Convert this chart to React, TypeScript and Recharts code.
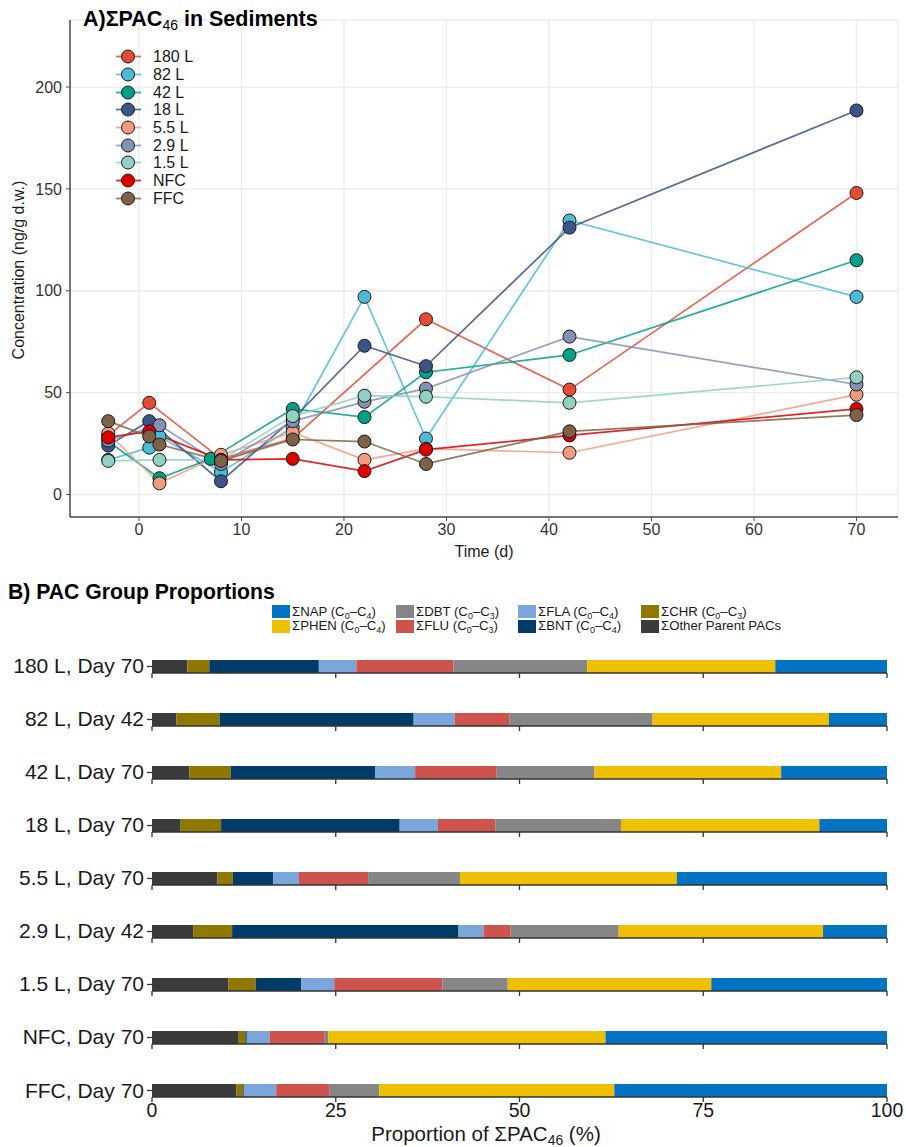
import { LineChart, Line, XAxis, YAxis, CartesianGrid, BarChart, Bar } from "recharts";

const FONT = "'Liberation Sans', Arial, sans-serif";

// --- A) concentration time series ---
const sampleDays = [-3, 1, 2, 7, 8, 15, 22, 28, 42, 70];
const seriesNames = ["180 L", "82 L", "42 L", "18 L", "5.5 L", "2.9 L", "1.5 L", "NFC", "FFC"];
const seriesColors = ["#E64B35", "#4DBBD5", "#00A087", "#3C5488", "#F39B7F", "#8491B4", "#91D1C2", "#DC0000", "#7E6148"];

const conc180L = [29, 45, null, null, 17.5, 27.5, null, 86, 51.5, 148];
const conc82L = [17, 23, 28.5, null, 11, 33, 97, 27.5, 134.5, 97];
const conc42L = [26, null, 8, 17.5, null, 42, 38, 60, 68.5, 115];
const conc18L = [24, 36, null, null, 6.5, 37, 73, 63, 131, 188.5];
const conc5_5L = [30, null, 5.5, null, 19.5, 30.5, 17, 22.5, 20.5, 49];
const conc2_9L = [26.5, null, 34, null, 15, 36, 45.5, 52, 77.5, 54];
const conc1_5L = [16.5, null, 17, null, 17, 38.5, 48.5, 48, 45, 57.5];
const concNFC = [28, 31, null, null, 17, 17.5, 11.5, 22, 29, 42];
const concFFC = [36, 28.5, 24.5, null, 16.5, 27, 26, 15, 31, 39];

const concentrations = [conc180L, conc82L, conc42L, conc18L, conc5_5L, conc2_9L, conc1_5L, concNFC, concFFC];
const timeTicks = [0, 10, 20, 30, 40, 50, 60, 70];
const concTicks = [0, 50, 100, 150, 200];

// --- B) group proportions (%) per sample, bottom row last ---
const sampleLabels = [
  "180 L, Day 70", "82 L, Day 42", "42 L, Day 70", "18 L, Day 70", "5.5 L, Day 70",
  "2.9 L, Day 42", "1.5 L, Day 70", "NFC, Day 70", "FFC, Day 70",
];
const otherPct = [4.8, 3.3, 5.1, 3.9, 8.9, 5.6, 10.4, 11.8, 11.5];
const chrPct = [3.0, 5.9, 5.6, 5.5, 2.1, 5.3, 3.7, 0.9, 0.9];
const bntPct = [14.9, 26.4, 19.7, 24.3, 5.5, 30.8, 6.2, 0.2, 0.1];
const flaPct = [5.1, 5.6, 5.4, 5.2, 3.5, 3.4, 4.5, 3.1, 4.4];
const fluPct = [13.2, 7.4, 11.1, 7.8, 9.4, 3.7, 14.7, 7.5, 7.2];
const dbtPct = [18.2, 19.5, 13.3, 17.1, 12.5, 14.7, 8.9, 0.5, 6.8];
const phenPct = [25.6, 24.0, 25.4, 27.0, 29.5, 27.8, 27.7, 37.7, 32.0];
const napPct = [15.2, 7.9, 14.4, 9.2, 28.6, 8.7, 23.9, 38.3, 37.1];
const pctTicks = [0, 25, 50, 75, 100];

// stacking order left -> right
const groups = [
  { key: "other", name: "Other Parent PACs", values: otherPct, color: "#3B3B3B" },
  { key: "chr", name: "CHR", values: chrPct, color: "#8F7700" },
  { key: "bnt", name: "BNT", values: bntPct, color: "#003C67" },
  { key: "fla", name: "FLA", values: flaPct, color: "#7AA6DC" },
  { key: "flu", name: "FLU", values: fluPct, color: "#CD534C" },
  { key: "dbt", name: "DBT", values: dbtPct, color: "#868686" },
  { key: "phen", name: "PHEN", values: phenPct, color: "#EFC000" },
  { key: "nap", name: "NAP", values: napPct, color: "#0073C2" },
];

// legend cells, filled column-wise like ggplot
const legendCells = [
  { key: "nap", hi: "4", col: 0, row: 0 },
  { key: "phen", hi: "4", col: 0, row: 1 },
  { key: "dbt", hi: "3", col: 1, row: 0 },
  { key: "flu", hi: "3", col: 1, row: 1 },
  { key: "fla", hi: "4", col: 2, row: 0 },
  { key: "bnt", hi: "4", col: 2, row: 1 },
  { key: "chr", hi: "3", col: 3, row: 0 },
  { key: "other", hi: "", col: 3, row: 1 },
];
const legendColX = [272, 396, 518, 641];

const lineData = sampleDays.map((day, i) => {
  const row: Record<string, number | null> = { day };
  concentrations.forEach((vals, s) => {
    row["s" + s] = vals[i];
  });
  return row;
});

const barRows = sampleLabels.map((label, i) => {
  const row: Record<string, string | number> = { label };
  groups.forEach((g) => {
    row[g.key] = g.values[i];
  });
  return row;
});

const sub = (t: string) => (
  <span style={{ fontSize: "0.68em", verticalAlign: "-0.3em", lineHeight: 0 }}>{t}</span>
);

function ConcentrationChart() {
  const axisColor = "#4d4d4d";
  return (
    <LineChart width={906} height={565} data={lineData} margin={{ top: 20, right: 8, bottom: 0, left: 0 }}>
      <CartesianGrid stroke="#ebebeb" strokeWidth={1.3} />
      <XAxis
        dataKey="day"
        type="number"
        domain={[-6.73, 74.05]}
        ticks={timeTicks}
        allowDataOverflow
        height={48}
        tickSize={4}
        tickMargin={3}
        stroke={axisColor}
        axisLine={{ stroke: axisColor, strokeWidth: 1.5 }}
        tick={{ fill: "#333", fontSize: 16, fontFamily: FONT }}
        label={() => (
          <text x={484} y={557} textAnchor="middle" fontSize={16} fill="#1a1a1a" fontFamily={FONT}>
            Time (d)
          </text>
        )}
      />
      <YAxis
        type="number"
        domain={[-11.04, 232.9]}
        ticks={concTicks}
        allowDataOverflow
        width={70}
        tickSize={4}
        tickMargin={4}
        stroke={axisColor}
        axisLine={{ stroke: axisColor, strokeWidth: 1.5 }}
        tick={{ fill: "#333", fontSize: 16, fontFamily: FONT }}
        label={() => (
          <text
            x={24}
            y={270}
            transform="rotate(-90 24 270)"
            textAnchor="middle"
            fontSize={16}
            fill="#1a1a1a"
            fontFamily={FONT}
          >
            Concentration (ng/g d.w.)
          </text>
        )}
      />
      {seriesNames.map((n, s) => (
        <Line
          key={"line-" + n}
          dataKey={"s" + s}
          stroke={seriesColors[s]}
          strokeWidth={1.7}
          strokeOpacity={0.85}
          dot={false}
          activeDot={false}
          connectNulls
          isAnimationActive={false}
        />
      ))}
      {seriesNames.map((n, s) => (
        <Line
          key={"pts-" + n}
          dataKey={"s" + s}
          stroke="none"
          dot={{ r: 6.5, fill: seriesColors[s], stroke: "#1a1a1a", strokeWidth: 1, fillOpacity: 1 }}
          activeDot={false}
          legendType="none"
          isAnimationActive={false}
        />
      ))}
    </LineChart>
  );
}

function SeriesLegend() {
  return (
    <div style={{ position: "absolute", left: 114, top: 48, fontFamily: FONT, fontSize: 16, color: "#1a1a1a" }}>
      {seriesNames.map((n, s) => (
        <div key={n} style={{ display: "flex", alignItems: "center", height: 17.7 }}>
          <svg width={28} height={17} style={{ display: "block" }}>
            <line x1={2} x2={27} y1={8.5} y2={8.5} stroke={seriesColors[s]} strokeWidth={1.7} strokeOpacity={0.85} />
            <circle cx={14} cy={8.5} r={6.5} fill={seriesColors[s]} stroke="#1a1a1a" strokeWidth={1} />
          </svg>
          <span style={{ marginLeft: 11, lineHeight: "17px" }}>{n}</span>
        </div>
      ))}
    </div>
  );
}

function GroupRow({ index }: { index: number }) {
  const last = index === sampleLabels.length - 1;
  return (
    <BarChart
      width={906}
      height={last ? 98 : 53}
      layout="vertical"
      data={[barRows[index]]}
      margin={{ top: 35, right: 19, bottom: 0, left: 0 }}
      barCategoryGap={0}
    >
      <XAxis
        type="number"
        domain={[0, 100]}
        ticks={pctTicks}
        allowDataOverflow
        height={last ? 50 : 5}
        tickSize={5}
        tickMargin={1}
        axisLine={{ stroke: "#333", strokeWidth: 1.3 }}
        tickLine={{ stroke: "#333", strokeWidth: 1.3 }}
        tick={last ? { fill: "#1a1a1a", fontSize: 19.5, fontFamily: FONT } : () => <g />}
      />
      <YAxis
        type="category"
        dataKey="label"
        width={152}
        tickSize={5}
        tickMargin={3}
        axisLine={false}
        tickLine={{ stroke: "#333", strokeWidth: 1.3 }}
        tick={{ fill: "#1a1a1a", fontSize: 21, fontFamily: FONT }}
      />
      {groups.map((g) => (
        <Bar key={g.key} dataKey={g.key} stackId="pac" fill={g.color} isAnimationActive={false} />
      ))}
    </BarChart>
  );
}

function GroupLegend() {
  return (
    <>
      {legendCells.map((c) => {
        const g = groups.find((x) => x.key === c.key)!;
        return (
          <div
            key={c.key}
            style={{
              position: "absolute",
              left: legendColX[c.col],
              top: 605 + c.row * 14.5,
              display: "flex",
              alignItems: "center",
              fontFamily: FONT,
              fontSize: 13.2,
              color: "#1a1a1a",
              whiteSpace: "nowrap",
              height: 13,
            }}
          >
            <div style={{ width: 18, height: 13, background: g.color }} />
            <span style={{ marginLeft: 2, lineHeight: "12px" }}>
              {"\u03A3" + g.name}
              {c.hi ? (
                <>
                  {" (C"}
                  {sub("0")}
                  {"\u2013C"}
                  {sub(c.hi)}
                  {")"}
                </>
              ) : null}
            </span>
          </div>
        );
      })}
    </>
  );
}

export default function App() {
  return (
    <div style={{ position: "absolute", left: 0, top: 0, width: 906, height: 1147, background: "#fff", overflow: "hidden" }}>
      <div style={{ position: "absolute", left: 0, top: 0 }}>
        <ConcentrationChart />
      </div>
      <div
        style={{
          position: "absolute",
          left: 83,
          top: 9,
          fontFamily: FONT,
          fontWeight: "bold",
          fontSize: 21.5,
          lineHeight: "21px",
          color: "#000",
          whiteSpace: "nowrap",
        }}
      >
        A){"\u03A3"}PAC<span style={{ fontSize: "0.65em", fontWeight: "normal", verticalAlign: "-0.3em", lineHeight: 0 }}>46</span> in Sediments
      </div>
      <SeriesLegend />

      <div
        style={{
          position: "absolute",
          left: 8,
          top: 581,
          fontFamily: FONT,
          fontWeight: "bold",
          fontSize: 21.2,
          lineHeight: "21px",
          color: "#000",
          whiteSpace: "nowrap",
        }}
      >
        B) PAC Group Proportions
      </div>
      <GroupLegend />
      {sampleLabels.map((label, i) => (
        <div key={label} style={{ position: "absolute", left: 0, top: 625 + i * 53 }}>
          <GroupRow index={i} />
        </div>
      ))}
      <div
        style={{
          position: "absolute",
          left: 486,
          top: 1124,
          transform: "translateX(-50%)",
          fontFamily: FONT,
          fontSize: 20.5,
          lineHeight: "20px",
          color: "#1a1a1a",
          whiteSpace: "nowrap",
        }}
      >
        Proportion of {"\u03A3"}PAC{sub("46")} (%)
      </div>
    </div>
  );
}
